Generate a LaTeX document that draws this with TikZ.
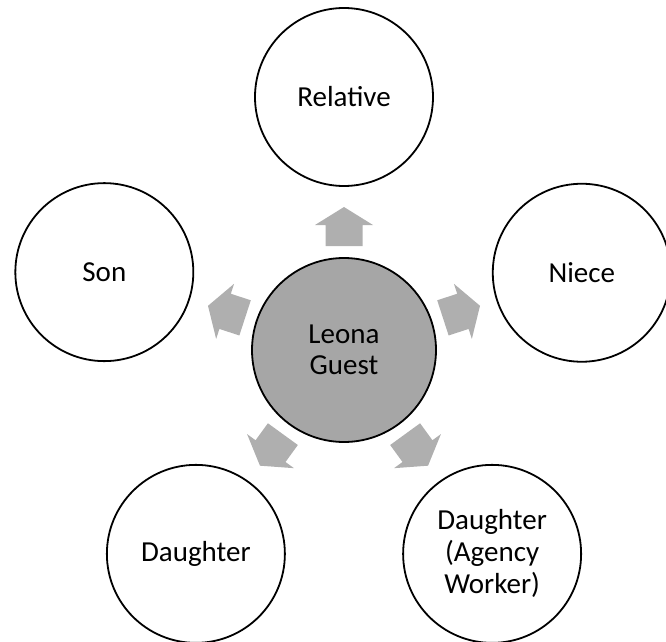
\documentclass[tikz,border=0pt]{standalone}
\usepackage{fontspec}
\setmainfont{Carlito}
\usetikzlibrary{calc}
\definecolor{hubgray}{HTML}{A6A6A6}
\definecolor{arrowgray}{HTML}{AFAFAF}
\tikzset{
  outer/.style={circle, draw=black, line width=1.8pt, fill=white, minimum size=178pt, inner sep=0pt, align=center, font=\fontsize{29}{32}\selectfont},
  hub/.style={circle, draw=black, line width=1.8pt, fill=hubgray, minimum size=184pt, inner sep=0pt, align=center, font=\fontsize{29}{30.5}\selectfont},
  blockarrow/.style={fill=arrowgray}
}
\newcommand{\blockarr}[1]{%
  \fill[blockarrow, shift={(c)}, rotate=#1] (104,-18.5) -- (125,-18.5) -- (125,-29) -- (143,0) -- (125,29) -- (125,18.5) -- (104,18.5) -- cycle;}
\begin{document}
\begin{tikzpicture}[x=1pt,y=1pt]
\useasboundingbox (0,0) rectangle (666,641);
\coordinate (c) at (344,291);
\node[hub] (hub) at (c) {Leona\\Guest};
\node[outer] (rel) at ($(c)+(90:253)$) {Relative};
\node[outer] (son) at ($(c)+(162:252)$) {Son};
\node[outer] (niece) at ($(c)+(18:250)$) {Niece};
\node[outer] (dau) at ($(c)+(234:252)$) {Daughter};
\node[outer] (agw) at ($(c)+(306:252)$) {Daughter\\(Agency\\Worker)};
\blockarr{90}
\blockarr{162}
\blockarr{18}
\blockarr{234}
\blockarr{306}
\end{tikzpicture}
\end{document}
